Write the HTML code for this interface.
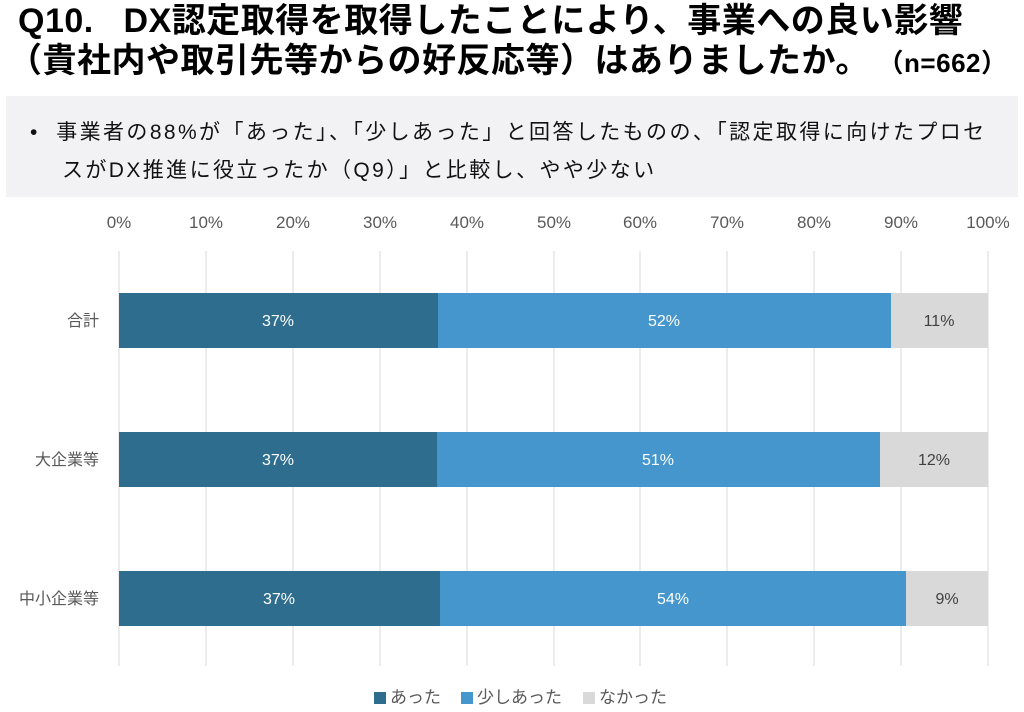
<!DOCTYPE html>
<html><head><meta charset="utf-8"><style>
body{margin:0;width:1024px;height:712px;background:#fff;position:relative;overflow:hidden;font-family:"Liberation Sans","Noto Sans CJK JP",sans-serif}
.t{position:absolute;white-space:nowrap}
</style></head><body>
<div class="t" style="left:18px;top:0px;font-size:34px;font-weight:bold;color:#000;line-height:42px;letter-spacing:0.5px">Q10.&nbsp;&nbsp;&nbsp;DX認定取得を取得したことにより、事業への良い影響</div>
<div class="t" style="left:8px;top:40px;font-size:34px;font-weight:bold;color:#000;line-height:42px;letter-spacing:0.5px">（貴社内や取引先等からの好反応等）はありましたか。<span style="font-size:26px">&nbsp;（n=662）</span></div>
<div style="position:absolute;left:6px;top:96px;width:1012px;height:101px;background:#f2f2f4"></div>
<div class="t" style="left:30px;top:114px;font-size:21px;color:#111;line-height:38px;letter-spacing:2.4px">•&nbsp;&nbsp;事業者の88%が「あった」、「少しあった」と回答したものの、「認定取得に向けたプロセ</div>
<div class="t" style="left:62px;top:152px;font-size:21px;color:#111;line-height:38px;letter-spacing:2.4px">スがDX推進に役立ったか（Q9）」と比較し、やや少ない</div>
<svg width="1024" height="712" style="position:absolute;left:0;top:0" font-family="Liberation Sans, Noto Sans CJK JP, sans-serif">
<g stroke="#d9d9d9" stroke-width="1">
<line x1="119" y1="251" x2="119" y2="666"/><line x1="206" y1="251" x2="206" y2="666"/><line x1="293" y1="251" x2="293" y2="666"/><line x1="380" y1="251" x2="380" y2="666"/><line x1="467" y1="251" x2="467" y2="666"/><line x1="554" y1="251" x2="554" y2="666"/><line x1="640" y1="251" x2="640" y2="666"/><line x1="727" y1="251" x2="727" y2="666"/><line x1="814" y1="251" x2="814" y2="666"/><line x1="901" y1="251" x2="901" y2="666"/><line x1="988" y1="251" x2="988" y2="666"/>
</g>
<g font-size="17" fill="#595959" text-anchor="middle">
<text x="119" y="228">0%</text><text x="206" y="228">10%</text><text x="293" y="228">20%</text><text x="380" y="228">30%</text><text x="467" y="228">40%</text><text x="554" y="228">50%</text><text x="640" y="228">60%</text><text x="727" y="228">70%</text><text x="814" y="228">80%</text><text x="901" y="228">90%</text><text x="988" y="228">100%</text>
</g>
<g font-size="16" fill="#595959" text-anchor="end">
<text x="99" y="326">合計</text><text x="99" y="465">大企業等</text><text x="99" y="604">中小企業等</text>
</g>
<rect x="119" y="293" width="319" height="55" fill="#2e6d8e"/><rect x="438" y="293" width="453" height="55" fill="#4496cc"/><rect x="891" y="293" width="97" height="55" fill="#d9d9d9"/>
<rect x="119" y="432" width="318" height="55" fill="#2e6d8e"/><rect x="437" y="432" width="443" height="55" fill="#4496cc"/><rect x="880" y="432" width="108" height="55" fill="#d9d9d9"/>
<rect x="119" y="571" width="321" height="55" fill="#2e6d8e"/><rect x="440" y="571" width="466" height="55" fill="#4496cc"/><rect x="906" y="571" width="82" height="55" fill="#d9d9d9"/>
<g font-size="16" text-anchor="middle" fill="#fff">
<text x="278" y="326">37%</text><text x="664" y="326">52%</text>
<text x="278" y="465">37%</text><text x="658" y="465">51%</text>
<text x="279" y="604">37%</text><text x="673" y="604">54%</text>
</g>
<g font-size="16" text-anchor="middle" fill="#404040">
<text x="939" y="326">11%</text><text x="934" y="465">12%</text><text x="947" y="604">9%</text>
</g>
<g font-size="17" fill="#595959">
<rect x="374" y="692" width="12" height="12" fill="#2e6d8e"/><text x="390" y="703">あった</text>
<rect x="461" y="692" width="12" height="12" fill="#4496cc"/><text x="477" y="703">少しあった</text>
<rect x="583" y="692" width="12" height="12" fill="#d9d9d9"/><text x="599" y="703">なかった</text>
</g>
</svg>
</body></html>
